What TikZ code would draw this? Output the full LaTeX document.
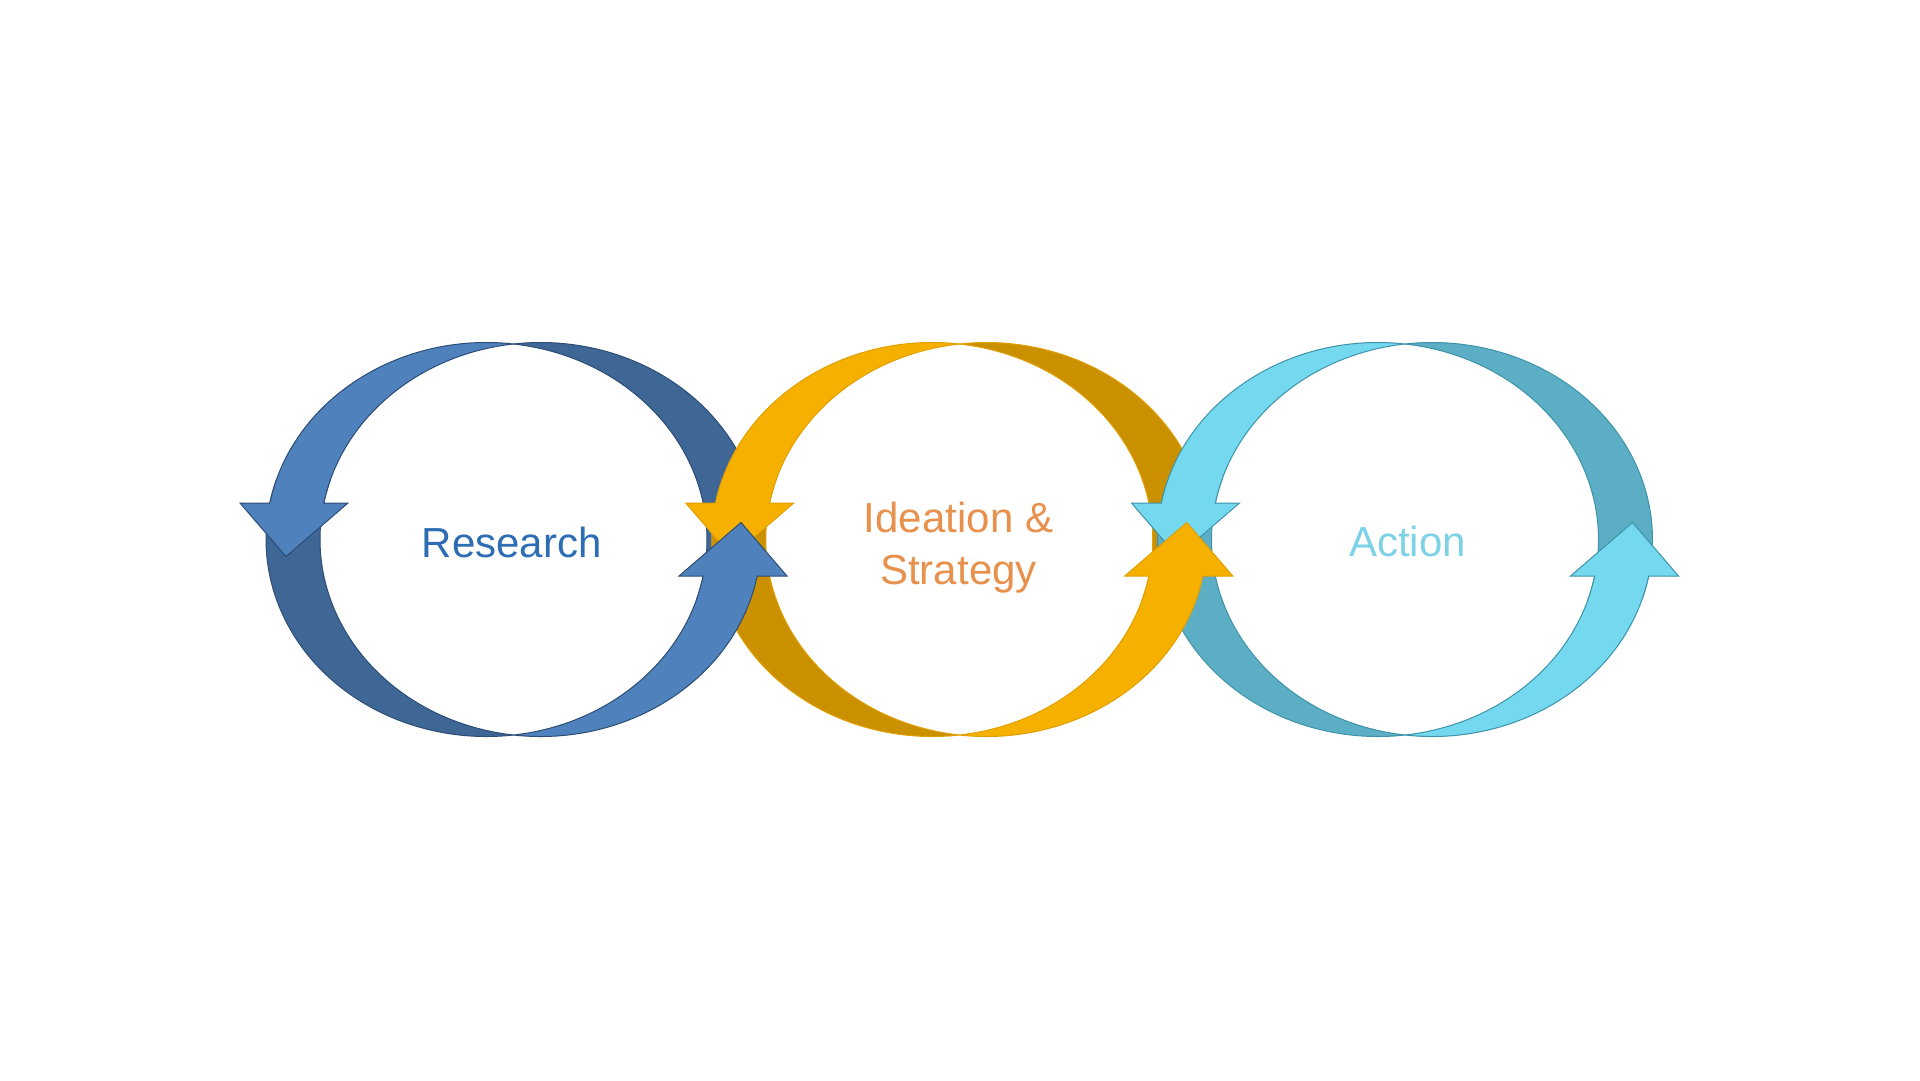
\documentclass[tikz,border=0pt]{standalone}
\usepackage{fontspec}
\setmainfont{Liberation Sans}
\definecolor{bluelt}{HTML}{4F81BD}
\definecolor{bluedk}{HTML}{3F6796}
\definecolor{blueln}{HTML}{2C4D75}
\definecolor{orglt}{HTML}{F5B000}
\definecolor{orgdk}{HTML}{CB9000}
\definecolor{orgln}{HTML}{E0A000}
\definecolor{cyanlt}{HTML}{74D8EE}
\definecolor{cyandk}{HTML}{5BAEC4}
\definecolor{cyanln}{HTML}{3E93AA}
\definecolor{txtblue}{HTML}{2C6DB3}
\definecolor{txtorg}{HTML}{E8914C}
\definecolor{txtcyan}{HTML}{7DD2E8}
\tikzset{
  lightarrow/.pic={
    \filldraw[fill=#1lt, draw=#1ln, line width=1pt, line join=miter]
      (0,-195.52) arc[start angle=277.03, end angle=190.68, x radius=220.5, y radius=197]
      -- (-273.5,-36.5) -- (-227.5,17) -- (-165.5,-36.5) -- (-189.68,-36.5)
      arc[start angle=190.68, end angle=262.97, x radius=220.5, y radius=197] -- cycle;
  },
  darkband/.pic={
    \filldraw[fill=#1dk, draw=#1ln, line width=1pt]
      (0,195.52) arc[start angle=82.97, end angle=197.73, x radius=220.5, y radius=197]
      -- (-183.02,-60)
      arc[start angle=197.73, end angle=97.03, x radius=220.5, y radius=197] -- cycle;
  },
  label/.style={font=\fontsize{42}{52}\selectfont, anchor=base, inner sep=0pt}
}
\begin{document}
\begin{tikzpicture}[x=1pt, y=-1pt]
\fill[white] (0,0) rectangle (1920,1080);
\useasboundingbox (0,0) rectangle (1920,1080);
\coordinate (c1) at (513.5,539.5);
\coordinate (c2) at (959.25,539.5);
\coordinate (c3) at (1405,539.5);
% back (dark) sides
\pic at (c1) {darkband=blue};
\pic[rotate=180] at (c1) {darkband=blue};
\pic at (c2) {darkband=org};
\pic[rotate=180] at (c2) {darkband=org};
\pic at (c3) {darkband=cyan};
\pic[rotate=180] at (c3) {darkband=cyan};
% front left arrows
\pic at (c1) {lightarrow=blue};
\pic at (c2) {lightarrow=org};
\pic at (c3) {lightarrow=cyan};
% front right arrows
\pic[rotate=180] at (c1) {lightarrow=blue};
\pic[rotate=180] at (c2) {lightarrow=org};
\pic[rotate=180] at (c3) {lightarrow=cyan};
% labels
\node[label, text=txtblue] (research) at (511.7,557.7) {Research};
\node[label, text=txtorg] (ideation) at (958.5,532.7) {\begin{tabular}[t]{@{}c@{}}Ideation \&\\Strategy\end{tabular}};
\node[label, text=txtcyan] (action) at (1407.5,556.7) {Action};
\end{tikzpicture}
\end{document}
